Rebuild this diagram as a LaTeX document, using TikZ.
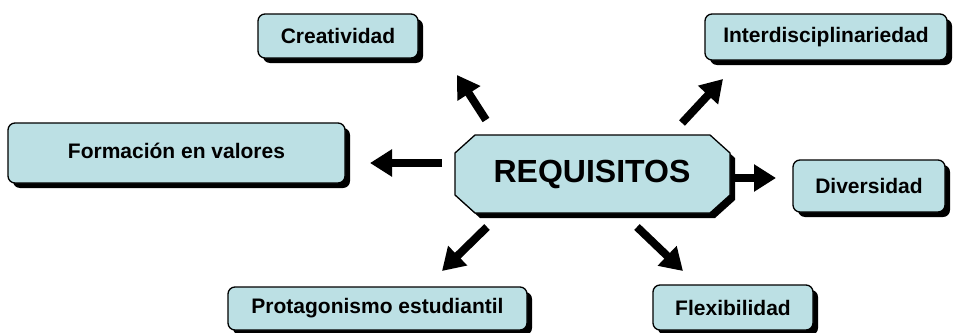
\documentclass[tikz,border=0pt]{standalone}
\usepackage{fontspec}
\setmainfont{Liberation Sans}
\usetikzlibrary{arrows.meta,shadows}
\definecolor{boxfill}{RGB}{188,224,228}
\tikzset{
  px/.style={x=1pt,y=-1pt},
  labelbox/.style={draw=black,line width=1.3pt,fill=boxfill,rounded corners=7pt,
    drop shadow={shadow xshift=5pt,shadow yshift=-5pt,opacity=1,fill=black}},
  lbl/.style={font=\bfseries\fontsize{21}{23}\selectfont},
  bigarrow/.style={line width=8pt,-{Triangle[length=22pt,width=26pt]}},
}
\begin{document}
\begin{tikzpicture}[px]
\useasboundingbox (0,0) rectangle (953,332);
% boxes
\node[labelbox,minimum width=160pt,minimum height=44pt] (crea) at (338,36) {};
\node[lbl] at (crea) {Creatividad};
\node[labelbox,minimum width=242pt,minimum height=46pt] (inter) at (826,37) {};
\node[lbl] at (inter) {Interdisciplinariedad};
\node[labelbox,minimum width=337pt,minimum height=60pt] (form) at (176.5,153) {};
\node[lbl] at ([yshift=2pt]form) {Formación en valores};
\node[labelbox,minimum width=152pt,minimum height=52pt] (div) at (869,186) {};
\node[lbl] at (div) {Diversidad};
\node[labelbox,minimum width=299pt,minimum height=43pt] (prot) at (377.5,308.5) {};
\node[lbl] at (prot) {Protagonismo estudiantil};
\node[labelbox,minimum width=160pt,minimum height=45pt] (flex) at (733,307.5) {};
\node[lbl] at (flex) {Flexibilidad};
% octagon
\fill[black] (480,140) -- (715,140) -- (735,158) -- (735,200) -- (715,218) -- (480,218) -- (460,200) -- (460,158) -- cycle;
\draw[line width=1.3pt,fill=boxfill] (475,135) -- (710,135) -- (730,153) -- (730,195) -- (710,213) -- (475,213) -- (455,195) -- (455,153) -- cycle;
\node[font=\bfseries\fontsize{32}{36}\selectfont] (req) at (592,174) {REQUISITOS};
% arrow end points
\coordinate (a1s) at (486,120); \coordinate (a1e) at (457,75);
\coordinate (a2s) at (442,163); \coordinate (a2e) at (370,163);
\coordinate (a3s) at (487,227); \coordinate (a3e) at (442,271);
\coordinate (a4s) at (682,123); \coordinate (a4e) at (723,79);
\coordinate (a5s) at (733,178); \coordinate (a5e) at (776,178);
\coordinate (a6s) at (637,227); \coordinate (a6e) at (683,271);
\draw[bigarrow] (a1s) -- (a1e);
\draw[bigarrow] (a2s) -- (a2e);
\draw[bigarrow] (a3s) -- (a3e);
\draw[bigarrow] (a4s) -- (a4e);
\draw[bigarrow] (a5s) -- (a5e);
\draw[bigarrow] (a6s) -- (a6e);
\end{tikzpicture}
\end{document}
